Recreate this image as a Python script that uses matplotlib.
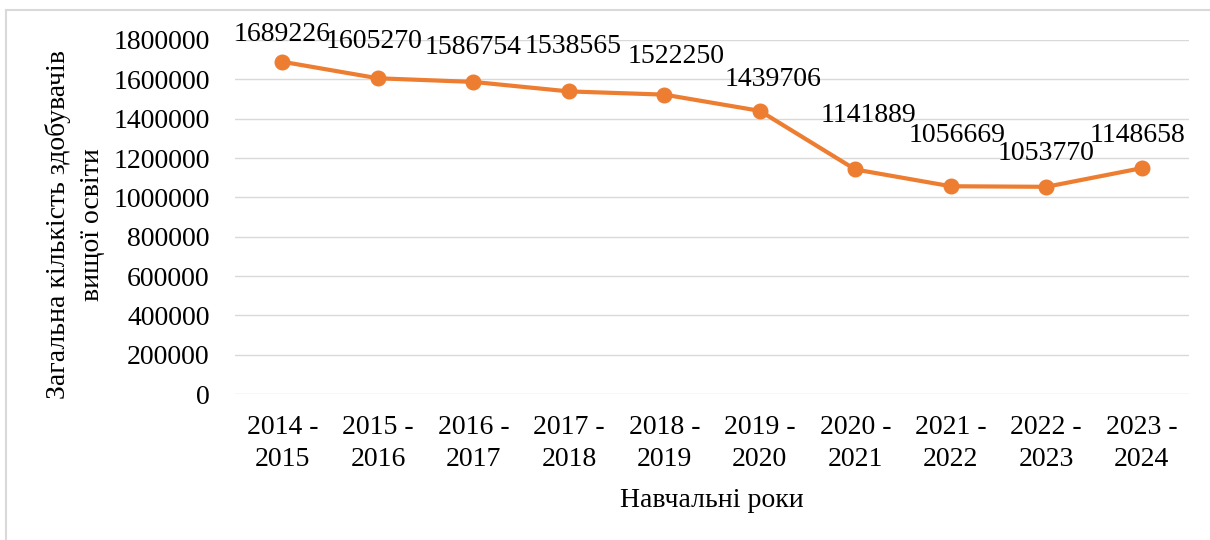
"""Total number of higher education students by academic year."""

import matplotlib

matplotlib.use("Agg")

import matplotlib.pyplot as plt
from matplotlib.lines import Line2D

years = ["2014 -\n2015", "2015 -\n2016", "2016 -\n2017", "2017 -\n2018", "2018 -\n2019",
         "2019 -\n2020", "2020 -\n2021", "2021 -\n2022", "2022 -\n2023", "2023 -\n2024"]
students = [1689226, 1605270, 1586754, 1538565, 1522250,
            1439706, 1141889, 1056669, 1053770, 1148658]
y_ticks = [0, 200000, 400000, 600000, 800000, 1000000, 1200000, 1400000, 1600000, 1800000]

# label offsets in pixels (as placed in the original)
label_dx = [0, -4, 0, 4, 12, 13, 13, 6, 0, -4]
label_dy = [27, 37, 34, 45, 38, 31, 54, 51, 33, 33]

plt.rcParams["font.family"] = ["Liberation Serif", "DejaVu Serif"]
orange = "#ED7D31"
fs = 20

fig = plt.figure(figsize=(12.1, 5.4), dpi=100)
ax = fig.add_axes([0.194, 0.270, 0.789, 0.656])

x = list(range(len(years)))
ax.plot(x, students, color=orange, linewidth=3, marker="o", markersize=10.5, zorder=3)

for i, value in enumerate(students):
    ax.annotate(str(value), (x[i], value), xytext=(label_dx[i], label_dy[i]),
                textcoords="offset pixels", ha="center", va="center", fontsize=fs)

ax.set_xlim(-0.5, len(years) - 0.5)
ax.set_ylim(0, 1800000)
ax.set_yticks(y_ticks)
ax.set_yticklabels([str(v) for v in y_ticks], fontsize=fs)
ax.set_xticks(x)
ax.set_xticklabels(years, fontsize=fs, linespacing=1.35)
ax.tick_params(length=0)
ax.tick_params(axis="y", pad=18)
ax.tick_params(axis="x", pad=15)
ax.grid(axis="y", color="#D9D9D9", linewidth=1)
ax.set_axisbelow(True)
for spine in ax.spines.values():
    spine.set_visible(False)

ax.set_xlabel("Навчальні роки", fontsize=fs, labelpad=12)
fig.text(0.062, 0.585, "Загальна кількість здобувачів\nвищої освіти", rotation=90,
         ha="center", va="center", fontsize=fs, linespacing=1.5)

# light frame around the chart
fig.add_artist(Line2D([0.005, 0.005], [0.0, 0.982], color="#D9D9D9", linewidth=1.5,
                      transform=fig.transFigure))
fig.add_artist(Line2D([0.005, 1.0], [0.982, 0.982], color="#D9D9D9", linewidth=1.5,
                      transform=fig.transFigure))

fig.savefig("out.png", dpi=100)
